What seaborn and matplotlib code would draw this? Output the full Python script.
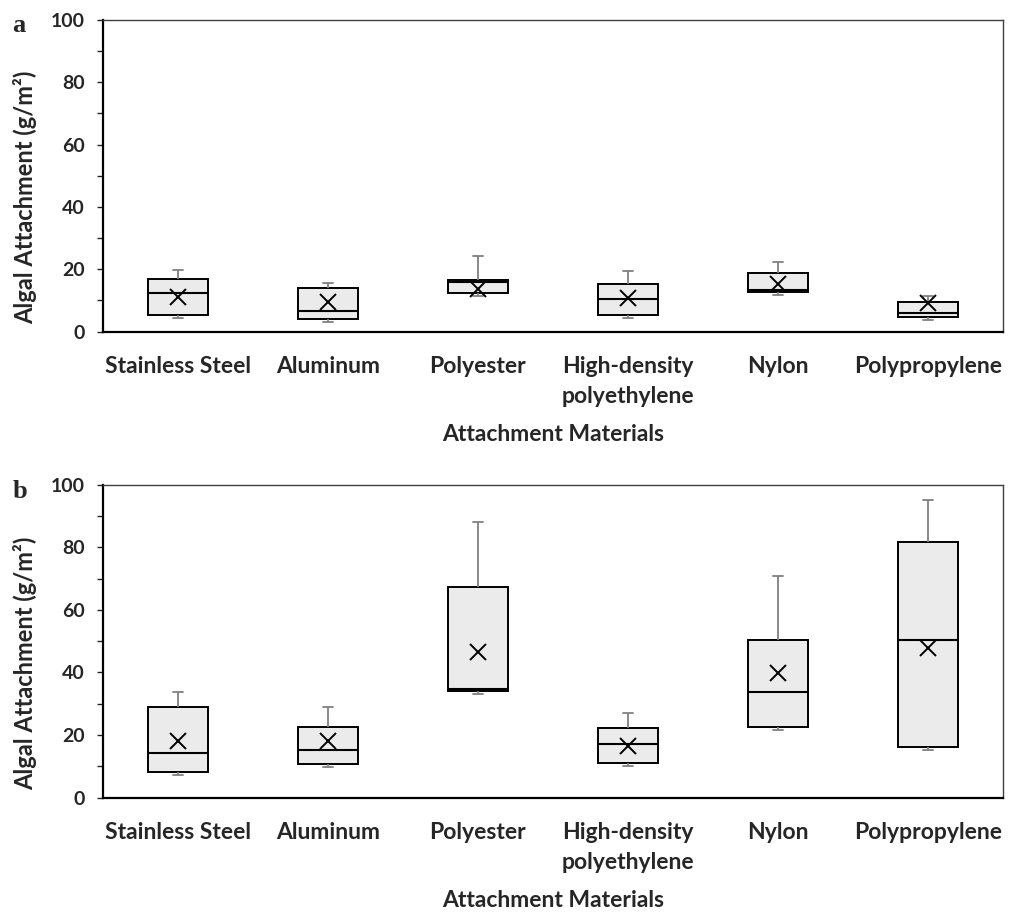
import numpy as np
import pandas as pd
import matplotlib
matplotlib.use("Agg")
import matplotlib.pyplot as plt
import seaborn as sns
from matplotlib.ticker import MultipleLocator

# categories
materials = ["Stainless Steel", "Aluminum", "Polyester",
             "High-density\npolyethylene", "Nylon", "Polypropylene"]

# panel a
a_low = [4.2, 2.9, 11.4, 4.4, 11.7, 3.7]
a_q1 = [5.3, 3.9, 12.3, 5.3, 12.6, 4.8]
a_med = [12.5, 6.6, 16.0, 10.3, 13.4, 5.8]
a_q3 = [16.8, 14.1, 16.4, 15.4, 18.7, 9.4]
a_high = [19.7, 15.7, 24.2, 19.5, 22.4, 11.5]
a_mean = [11.2, 9.6, 13.5, 10.6, 15.2, 9.0]

# panel b
b_low = [7.2, 9.9, 33.0, 10.2, 21.5, 15.2]
b_q1 = [8.1, 10.7, 34.1, 11.2, 22.5, 16.2]
b_med = [14.4, 15.2, 34.6, 17.1, 33.7, 50.5]
b_q3 = [29.0, 22.5, 67.3, 22.3, 50.3, 81.6]
b_high = [33.7, 29.1, 88.1, 27.1, 70.8, 95.1]
b_mean = [18.1, 18.2, 46.4, 16.5, 39.9, 47.9]


def five_num(lo, q1, med, q3, hi):
    # min, q1, median, q3, max per material -> seaborn computes the same stats back
    rows = []
    for i, m in enumerate(materials):
        for v in (lo[i], q1[i], med[i], q3[i], hi[i]):
            rows.append({"material": m, "value": v})
    return pd.DataFrame(rows)


sns.set_style("ticks")
plt.rcParams["font.family"] = ["Lato", "DejaVu Sans"]
plt.rcParams["font.weight"] = "bold"
plt.rcParams["axes.labelweight"] = "bold"

fig = plt.figure(figsize=(10.1, 9.13), dpi=100)
ax_a = fig.add_axes([0.102, 0.6369, 0.891, 0.3412])
ax_b = fig.add_axes([0.102, 0.1264, 0.891, 0.3427])

panels = [
    (ax_a, five_num(a_low, a_q1, a_med, a_q3, a_high), a_mean, "a", 0.965),
    (ax_b, five_num(b_low, b_q1, b_med, b_q3, b_high), b_mean, "b", 0.4546),
]

for ax, df, means, tag, ty in panels:
    sns.boxplot(data=df, x="material", y="value", order=materials,
                whis=(0, 100), width=0.4, color="#ebebeb", saturation=1,
                linecolor="black", linewidth=1.4, fliersize=0,
                whiskerprops=dict(color="#808080", linewidth=1.3),
                capprops=dict(color="#808080", linewidth=1.3),
                medianprops=dict(color="black", linewidth=1.5),
                capwidths=0.065, ax=ax)
    sns.pointplot(x=materials, y=means, order=materials, color="black",
                  marker="x", linestyle="none", markersize=11.5,
                  markeredgewidth=1.4, errorbar=None, zorder=5, ax=ax)

    ax.set_xlim(-0.5, 5.5)
    ax.set_ylim(0, 100)
    ax.yaxis.set_major_locator(MultipleLocator(20))
    ax.yaxis.set_minor_locator(MultipleLocator(10))
    ax.set_xticks(range(len(materials)))
    ax.set_xticklabels(materials, fontsize=16.5, fontweight="bold",
                       linespacing=1.55)
    ax.tick_params(axis="x", length=0, pad=17.5)
    ax.tick_params(axis="y", which="both", length=4.3, width=1,
                   direction="out", labelsize=14, pad=8.6)
    ax.set_xlabel("Attachment Materials", fontsize=16.5, labelpad=12)
    ax.set_ylabel("Algal Attachment (g/m²)", fontsize=17)
    ax.yaxis.set_label_coords(-0.073, 0.43)

    for side in ["top", "right"]:
        ax.spines[side].set_visible(True)
        ax.spines[side].set_linewidth(1.0)
        ax.spines[side].set_color("#404040")
    for side in ["left", "bottom"]:
        ax.spines[side].set_linewidth(1.6)
        ax.spines[side].set_color("black")

    fig.text(0.012, ty, tag, family="Liberation Serif", fontweight="bold",
             fontsize=19, va="baseline", ha="left")

fig.savefig("out.png", dpi=100)
